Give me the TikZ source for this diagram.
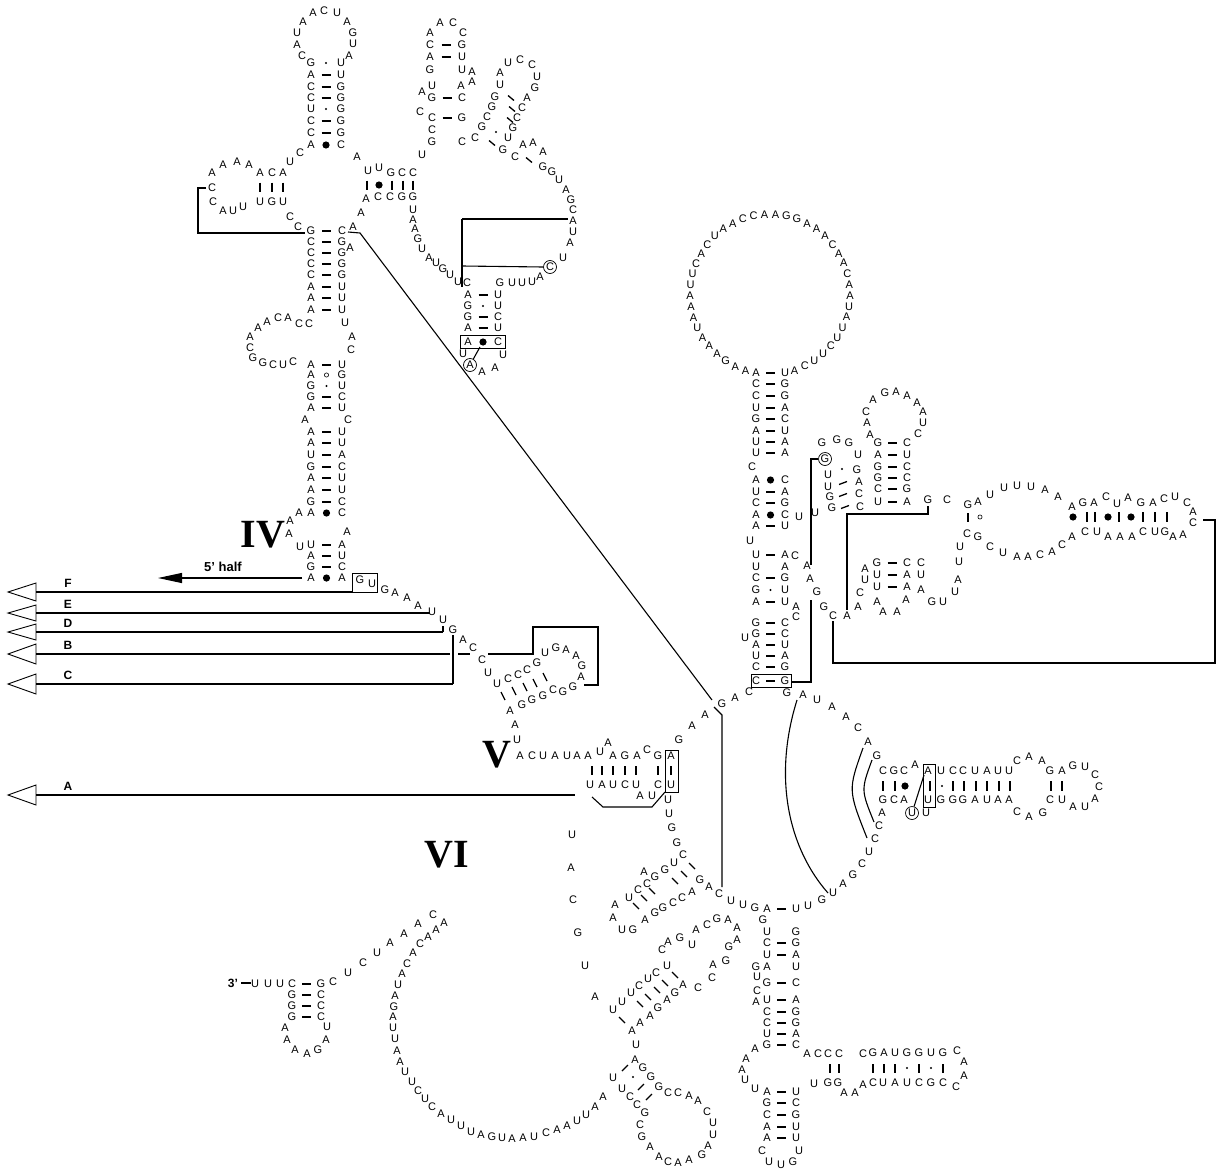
\documentclass[tikz,border=0pt]{standalone}
\usepackage{fontspec}
\setmainfont{Liberation Serif}
\setsansfont{Liberation Sans}
\newfontfamily\nfam{Liberation Sans}
\usetikzlibrary{arrows.meta}
\tikzset{
  nt/.style={font=\nfam\fontsize{11}{11}\selectfont, inner sep=0pt, text height=7.9pt, text depth=0pt},
  circ/.style={nt, circle, draw, line width=0.7pt, minimum size=13pt},
  pl/.style={line width=1.3pt},
  ln/.style={line width=1.1pt},
  bx/.style={line width=0.9pt},
  roman/.style={font=\fontsize{40}{40}\selectfont\bfseries, inner sep=0pt},
  lab/.style={font=\sffamily\bfseries\fontsize{12}{12}\selectfont, inner sep=0pt},
  tri/.style={line width=0.9pt},
}
\newcommand\mkd[2]{\draw[pl] ({#1-4.5},#2)--({#1+4.5},#2);}
\newcommand\mks[2]{\fill (#1,#2) circle (1.1);}
\newcommand\mkb[2]{\fill (#1,#2) circle (3.6);}
\newcommand\mko[2]{\draw[line width=0.6pt] (#1,#2) circle (2.1);}
\newcommand\mkn[2]{}
\newcommand\stemrows[4]{%
  \foreach \yy/\ta/\mm/\tb [count=\i] in {#4} {%
    \node[nt] (#1l\i) at (#2,\yy) {\ta};
    \node[nt] (#1r\i) at (#3,\yy) {\tb};
    \pgfmathsetmacro\xm{(#2+#3)/2}
    \csname mk\mm\endcsname{\xm}{\yy}
  }}
\newcommand\letters[2]{%
  \foreach \xx/\yy/\ta [count=\i] in {#2} {\node[nt] (#1\i) at (\xx,\yy) {\ta};}}
\begin{document}
\begin{tikzpicture}[x=1pt,y=-1pt]
\path[use as bounding box] (0,0) rectangle (1221,1172);

% ---------------- top-left domain
\letters{tl}{302/56/C, 297/45/A, 297/33/U, 303/22/A, 313/13/A, 324/11/C, 337/13/U, 347/22/A, 353/33/G, 353/44/U, 349/56/A,
300/153/C, 290/162/U, 357/157/A,
212/173/A, 223/165/A, 237/162/A, 249/165/A, 260/173/A, 272/173/C, 283/173/A, 212/188/C, 213/202/C, 223/211/A, 233/211/U, 243/207/U, 260/202/U, 272/202/G, 283/202/U, 290/217/C, 298/227/C,
368/171/U, 379/168/U, 391/173/G, 402/173/C, 413/173/C, 366/199/A, 378/197/C, 390/197/C, 402/197/G, 413/197/G, 353/227/A, 361/213/A,
413/210/U, 413/220/A, 415/229/A, 418/239/G, 422/249/U, 429/258/A, 436/263/U, 443/269/G, 450/275/U, 458/282/U}
\stemrows{sa}{311}{341}{63/G/s/U, 75/A/d/U, 87/C/d/G, 98/C/d/G, 109/U/s/G, 121/C/d/G, 133/C/d/G, 145/A/b/C}
\foreach \xx/\yy in {260/187, 272/187, 283/187, 367/185, 392/185, 403/185, 413/185}
  \draw[pl] (\xx,{\yy-4.5})--(\xx,{\yy+4.5});
\mkb{379}{185}

% ---------------- top-middle domain
\letters{tm}{422/155/U, 432/142/G, 432/130/C, 432/118/C, 420/112/C, 432/98/G, 422/92/A, 432/86/U, 430/70/G, 430/57/A, 430/45/C, 430/33/A, 440/23/A, 453/23/C, 463/33/C, 462/45/G, 462/57/U, 462/70/U, 472/72/A, 472/82/A, 461/86/A, 462/98/C, 462/118/G, 462/142/C, 475/138/C,
482/127/G, 487/117/C, 492/107/G, 495/97/G, 500/85/U, 500/73/A, 508/63/U, 520/60/C, 532/65/C, 537/77/U, 535/88/G, 527/98/A, 522/108/C, 517/118/C, 513/128/G, 508/138/U, 503/150/G, 515/157/C, 523/145/A, 533/143/A, 543/152/A, 543/167/G,
552/172/G, 559/180/U, 566/190/A, 571/200/G, 573/210/C, 573/221/A, 573/232/U, 570/243/A, 563/258/U, 540/277/A, 532/282/U, 522/283/U, 512/283/U, 500/283/G, 467/283/C,
463/354/U, 482/372/A, 495/368/A, 503/355/U}
\foreach \xx/\yy in {446/45, 446/57, 447/98, 447/118} {\mkd{\xx}{\yy}}
\foreach \xx/\yy in {511/98, 512/109, 510/120, 492/143, 529/160}
  \draw[pl] ({\xx-3},{\yy-2.5})--({\xx+3},{\yy+2.5});
\mks{496}{132}
\stemrows{sb}{468}{498}{295/A/d/U, 306/G/s/U, 317/G/d/C, 328/A/d/U, 342/A/b/C}
\node[circ] (cC) at (550,267) {C};
\node[circ] (cA) at (470,365) {A};
\draw[bx] (460,335) rectangle (505,348);
\draw[ln] (480,347)--(cA);
\draw[ln] (462,219)--(568,219);
\draw[ln] (462,219)--(462,287);
\draw[ln] (462,266)--(cC.west);

% ---------------- left long stem
\stemrows{sc}{311}{342}{231/G/d/C, 242/C/d/G, 253/C/d/G, 264/C/d/G, 275/C/d/G, 287/A/d/U, 298/A/d/U, 310/A/d/U, 365/A/d/U, 375/A/o/G, 386/G/s/U, 397/G/d/C, 408/A/d/U, 432/A/d/U, 443/A/d/U, 455/U/d/A, 467/G/d/C, 478/A/d/U, 490/A/d/U, 502/G/d/C, 513/A/b/C, 545/U/d/A, 556/A/d/U, 567/G/d/C, 578/A/b/A}
\letters{ls}{350/248/A, 345/323/U, 352/337/A, 351/350/C, 309/324/C, 299/324/C, 288/318/A, 278/318/C, 267/322/A, 258/328/A, 250/337/A, 250/348/C, 253/358/G, 263/363/G, 273/365/C, 283/365/U, 293/362/C, 305/420/A, 348/420/C,
299/513/A, 290/521/A, 289/534/A, 300/547/U, 347/532/A,
360/580/G, 372/584/U, 385/590/G, 395/593/A, 407/598/A, 418/606/A, 432/612/U, 443/620/U, 453/630/G, 463/640/A, 473/648/C, 482/660/C, 488/673/U, 497/684/U, 508/679/C, 518/675/C, 527/670/C, 537/663/G, 545/653/U, 556/648/G, 566/650/A, 576/656/A, 582/666/G, 581/677/A, 573/687/G, 563/692/G, 553/690/C, 543/696/G, 532/700/G, 522/705/G, 510/711/A, 515/725/A, 517/740/U}
\foreach \xx/\yy in {503/696, 514/691, 525/687, 535/683, 545/677}
  \draw[pl] ({\xx-2},{\yy-4})--({\xx+2},{\yy+4});
\draw[bx] (352,573) rectangle (377,592);
\node[roman] (IV) at (263,535) {IV};
\node[lab, font=\sffamily\bfseries\fontsize{13}{13}\selectfont] (half) at (223,567) {5’ half};
\draw[ln,-{Triangle[length=24pt,width=10pt]}] (302,578)--(158,578);

% brackets / long line
\draw[ln] (206,188)--(198,188)--(198,233)--(305,233);
\draw[ln] (348,232)--(360,233)--(712,700);
\draw[ln] (714,707)--(722,715)--(722,887);
\draw[ln] (488,654)--(533,654)--(533,627)--(598,627)--(598,685)--(584,685);

% ---------------- left arrows
\foreach \yy/\hh/\nm/\xe in {592/9/F/352, 613/8/E/430, 632/8/D/443, 654/10/B/450, 684/10/C/453, 795/10/A/575} {
  \draw[tri] (36,{\yy-\hh})--(8,\yy)--(36,{\yy+\hh})--cycle;
  \draw[ln] (36,\yy)--(\xe,\yy);
  \node[lab] (lab\nm) at (68,{\yy-9}) {\nm};
}
\draw[ln] (443,632)--(443,626);
\draw[ln] (458,654)--(470,654);
\draw[ln] (453,684)--(453,635);

% ---------------- V region
\node[roman] (V) at (497,755) {V};
\letters{v}{520/756/A, 532/756/C, 543/756/U, 555/756/A, 567/756/U, 577/756/A, 588/756/A, 600/752/U, 608/743/A, 613/756/A, 625/756/G, 637/756/A, 647/750/C, 658/756/G, 671/756/A,
590/785/U, 602/785/A, 613/785/U, 625/785/C, 636/785/U, 658/785/C, 671/785/U, 640/796/A, 652/796/U}
\foreach \xx in {592, 602, 613, 625, 636, 658, 671}
  \draw[pl] (\xx,766)--(\xx,775);
\draw[bx] (665,750) rectangle (678,792);
\draw[ln] (592,797)--(603,807)--(652,807)--(665,792);

% ---------------- middle
\node[roman] (VI) at (447,855) {VI};
\letters{m}{679/740/G, 692/726/A, 705/715/A, 722/704/G, 735/698/A, 749/692/C, 787/693/G, 803/695/A, 817/700/U, 832/707/A, 846/717/A, 858/728/C, 868/742/A, 877/756/G,
668/800/U, 669/814/U, 672/828/G, 677/843/G, 683/855/C, 674/863/U, 665/870/G, 655/877/G, 644/872/A, 647/884/C, 638/890/C, 629/898/U, 615/905/A, 613/918/A, 622/930/U, 633/930/G, 645/920/A, 655/913/G, 663/908/G, 673/903/C, 682/898/C, 692/892/A, 700/880/G, 709/887/A, 719/894/C, 731/901/U, 743/905/U, 755/908/G,
572/835/U, 571/868/A, 573/900/C, 578/933/G, 585/966/U, 595/997/A,
707/925/C, 717/919/G, 728/920/A, 737/928/A, 737/940/A, 729/947/G, 726/961/G, 713/965/A, 712/978/C, 698/988/C, 696/930/A, 680/938/G, 692/945/U, 668/942/A, 662/950/C, 667/966/U, 656/973/C, 648/979/U, 639/986/C, 631/993/U, 622/1002/U, 613/1010/U, 683/985/A, 675/993/G, 667/1000/A, 658/1008/G, 650/1016/A, 640/1023/A, 632/1031/A, 636/1045/U, 635/1060/A,
643/1068/G, 651/1077/G, 659/1087/G, 668/1093/C, 678/1093/C, 689/1096/A, 698/1101/A, 707/1112/C, 713/1123/U, 713/1135/U, 708/1146/A, 702/1155/G, 689/1160/A, 678/1163/A, 668/1162/C, 659/1157/A, 650/1147/A, 642/1137/G, 640/1125/C, 645/1113/G, 637/1105/C, 630/1097/C, 622/1089/U, 613/1078/U}
\foreach \xx/\yy in {692/866, 684/874, 675/881, 652/891, 644/898, 636/906, 675/975, 665/983, 657/990, 648/997, 640/1004, 622/1020}
  \draw[pl] ({\xx-3},{\yy-3})--({\xx+3},{\yy+3});
\foreach \xx/\yy in {625/1068, 641/1087, 649/1097}
  \draw[pl] ({\xx-3},{\yy+3})--({\xx+3},{\yy-3});
\mks{633}{1077}

% ---------------- bottom-left
\node[lab] (three) at (233,983) {3’};
\draw[ln] (241,983)--(251,983);
\stemrows{sd}{292}{321}{984/C/d/G, 995/G/d/C, 1006/G/d/C, 1017/G/d/C}
\letters{bl}{255/984/U, 268/984/U, 280/984/U, 333/982/C, 348/973/U, 363/963/C, 377/953/U, 390/943/A, 404/934/A, 285/1028/A, 287/1040/A, 295/1050/A, 307/1054/A, 318/1050/G, 326/1040/A, 327/1027/U,
418/924/A, 433/915/C, 444/923/A, 436/930/A, 428/937/A, 420/944/C, 413/953/A, 407/964/C, 402/974/A, 398/985/U, 395/996/A, 394/1007/G, 393/1017/A, 393/1028/U, 395/1039/U, 397/1051/A, 400/1062/A, 405/1072/U, 412/1082/U, 418/1091/C, 425/1099/U, 432/1107/C, 441/1114/A, 451/1120/U, 461/1126/U, 471/1132/U, 481/1135/A, 492/1137/G, 502/1138/U, 512/1139/A, 523/1138/A, 534/1137/U, 546/1133/C, 557/1130/A, 567/1126/A, 577/1121/U, 586/1115/U, 595/1107/A, 603/1097/A}

% ---------------- bottom-right
\stemrows{se}{767}{796}{909/A/d/U, 932/U/n/G, 943/C/d/G, 955/U/d/A, 967/A/n/U, 983/G/d/C, 1000/U/d/A, 1012/C/d/G, 1023/C/d/G, 1034/U/d/A, 1045/G/d/C, 1092/A/d/U, 1103/G/d/C, 1115/C/d/G, 1127/A/d/U, 1138/A/d/U}
\letters{br}{808/906/U, 822/900/G, 833/893/U, 843/884/A, 853/875/G, 862/864/C, 869/852/U, 875/839/C, 879/826/C, 882/813/A,
763/920/G, 756/967/G, 757/977/U, 757/991/C, 756/1002/A,
755/1049/A, 746/1059/A, 742/1070/A, 745/1080/U, 755/1089/U, 762/1151/C, 799/1151/U, 769/1162/U, 781/1165/U, 793/1162/G,
807/1054/A, 818/1054/C, 828/1054/C, 839/1054/C, 814/1084/U, 828/1083/G, 838/1083/G, 844/1093/A, 855/1093/A, 863/1085/A, 873/1083/C, 883/1083/U, 895/1083/A, 907/1083/U, 919/1083/C, 931/1083/G, 943/1083/C, 956/1087/C, 964/1076/A, 964/1062/A, 957/1051/C, 943/1053/G, 931/1053/U, 919/1053/G, 907/1053/G, 895/1053/U, 884/1053/A, 873/1053/G, 863/1054/C}
\foreach \xx in {830, 839, 873, 884, 895, 919, 943}
  \draw[pl] (\xx,1064)--(\xx,1073);
\mks{907}{1068}\mks{931}{1068}

% ---------------- big loop + right stem
\foreach \t [count=\i] in {A,A,G,A,A,A,U,A,A,A,U,U,C,A,C,U,A,A,C,C,A,A,G,G,A,A,A,C,A,A,C,A,A,U,A,U,U,C,U,U,C,A} {
  \pgfmathsetmacro\ang{252.2-(\i-1)*7.91}
  \node[nt] (big\i) at ({770+80*cos(\ang)},{294-80*sin(\ang)}) {\t};
}
\stemrows{sf}{756}{785}{373/A/d/U, 384/C/d/G, 396/C/d/G, 408/U/d/A, 419/G/d/C, 431/A/d/U, 442/U/d/A, 453/U/d/A, 480/A/b/C, 492/U/d/A, 503/C/d/G, 515/A/b/C, 526/A/d/U, 555/U/d/A, 567/U/n/A, 578/C/d/G, 590/G/s/U, 602/A/d/U, 623/G/d/C, 634/G/d/C, 645/A/d/U, 656/U/d/A, 667/C/d/G, 681/C/d/G}
\letters{rs}{752/467/C, 799/517/U, 815/513/U, 750/541/U, 795/556/C, 807/566/A, 810/579/A, 817/592/G, 824/607/G, 833/616/C, 847/616/A, 796/607/A, 796/617/C, 745/638/U,
822/443/G, 837/440/G, 849/443/G, 858/455/U, 857/470/G, 859/482/A, 859/494/C, 860/507/C, 828/475/U, 828/487/U, 830/497/G, 832/508/G,
870/435/A, 867/423/A, 866/412/C, 873/400/A, 885/393/G, 896/392/A, 907/396/A, 917/403/A, 923/412/A, 923/423/U, 918/434/C,
928/500/G, 947/500/C,
858/607/A, 860/593/C, 865/580/U, 865/569/A, 921/563/C, 921/575/U, 921/590/A, 877/602/A, 883/612/A, 897/612/A, 906/600/A, 932/602/G, 943/602/U, 955/592/U, 958/580/A, 959/562/U, 960/547/U, 967/534/C, 978/537/G, 968/505/G, 978/502/A,
990/495/U, 1004/488/U, 1017/486/U, 1031/487/U, 1045/490/A, 1058/497/A, 1072/507/A, 1083/503/G, 1094/503/A, 1106/497/C, 1117/504/U, 1128/498/A, 1141/503/G, 1153/503/A, 1164/499/C, 1175/497/U, 1187/503/C, 1193/512/A, 1193/523/C,
1183/535/A, 1173/537/A, 1165/532/G, 1155/532/U, 1143/532/C, 1132/537/A, 1120/537/A, 1108/537/A, 1097/532/U, 1085/532/C, 1072/537/A, 1062/545/C, 1052/552/A, 1040/555/C, 1028/557/A, 1017/557/A, 1003/553/U, 990/547/C}
\stemrows{sg}{878}{907}{443/G/d/C, 455/A/d/U, 467/G/d/C, 478/G/d/C, 489/C/d/G, 502/U/d/A}
\stemrows{sh}{877}{907}{563/G/d/C, 575/U/d/A, 587/U/d/A}
\node[circ] (cG) at (825,459) {G};
\mks{842}{469}
\foreach \xx/\yy in {843/483, 843/495, 845/507}
  \draw[pl] ({\xx-4},{\yy+1.5})--({\xx+4},{\yy-1.5});
\draw[pl] (968,513)--(968,522);
\mko{980}{517}
\foreach \xx in {1087, 1095, 1119, 1143, 1155, 1167}
  \draw[pl] (\xx,512)--(\xx,522);
\foreach \xx in {1073, 1108, 1131} {\mkb{\xx}{517}}
\draw[bx] (751,674) rectangle (791,687);
\draw[ln] (cG.west)--(811,459)--(811,565);
\draw[ln] (811,600)--(811,682)--(791,682);
\draw[ln] (928,506)--(928,514)--(847,514)--(847,610);
\draw[ln] (833,621)--(833,663)--(1215,663)--(1215,520)--(1203,520);

% ---------------- right hairpin
\letters{rh}{883/771/C, 894/771/G, 904/771/C, 915/765/A, 928/771/A, 941/771/U, 953/771/C, 963/771/C, 975/771/U, 987/771/A, 998/771/U, 1009/771/U, 1017/761/C, 1029/757/A, 1042/761/A, 1050/771/G, 1062/771/A, 1073/766/G, 1085/767/U, 1095/775/C, 1099/787/C, 1095/799/A, 1085/807/U, 1073/807/A, 1062/800/U, 1050/800/C, 1043/813/G, 1029/817/A, 1017/812/C, 1009/800/A, 998/800/A, 987/800/U, 975/800/A, 963/800/G, 953/800/G, 941/800/G, 928/800/U, 926/813/U, 904/800/A, 894/800/C, 883/800/G}
\foreach \xx in {883, 895, 930, 953, 964, 976, 987, 999, 1010, 1051, 1062}
  \draw[pl] (\xx,781)--(\xx,791);
\mkb{905}{786}\mks{942}{786}
\node[circ] (cU) at (912,813) {U};
\draw[bx] (923,764) rectangle (935,807);
\draw[ln] (cU)--(924,775);
\draw[ln] (863,748) .. controls (848,790) .. (867,838);
\draw[ln] (872,760) .. controls (861,790) .. (874,822);
\draw[ln] (797,700) .. controls (772,780) and (790,850) .. (828,893);
\end{tikzpicture}
\end{document}
